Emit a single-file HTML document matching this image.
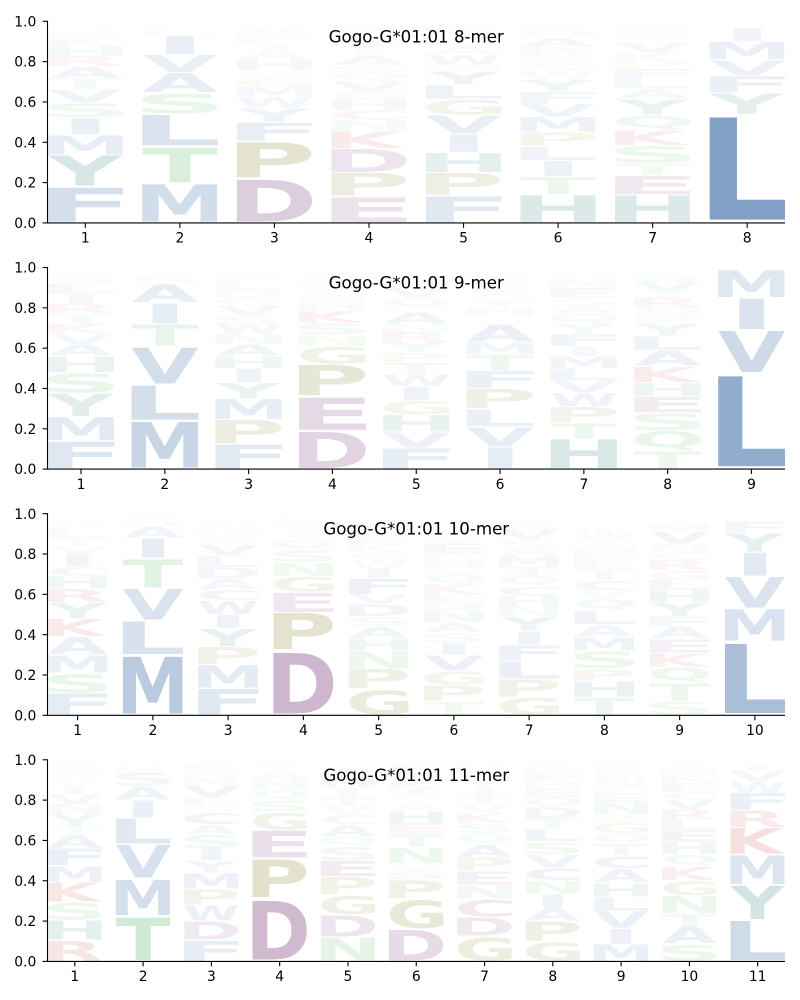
<!DOCTYPE html>
<html lang="en">
<head>
<meta charset="utf-8">
<title>Gogo-G*01:01 sequence logos</title>
<style>
html,body{margin:0;padding:0;background:#fff}
svg{display:block}
text{font-family:"DejaVu Sans","Liberation Sans",sans-serif}
</style>
</head>
<body>
<svg id="chart" xmlns="http://www.w3.org/2000/svg" width="800" height="1000" viewBox="0 0 800 1000"></svg>
<script>
const titles = ["Gogo-G*01:01 8-mer","Gogo-G*01:01 9-mer","Gogo-G*01:01 10-mer","Gogo-G*01:01 11-mer"];
const yTickLabels = ["0.0","0.2","0.4","0.6","0.8","1.0"];

const letters8 = [
"FYMISVTARHKEQGNLPD","MTLSAVIEQNRDH","DPFYWMGSQHAILHVTKE","EPDKNCHGVQSAITRLFY",
"FPHIVGLYMWATSQENK","HTILPMVFYWQSRAHKEN","HETSKQYALFPKVSHRNM","LYFVMIRQS"];
const heights8 = [
[.18,.157,.1,.085,.075,.065,.055,.06,.05,.05,.04,.03,.02,.01,.01,.005,.005,.003],
[.195,.185,.16,.105,.1,.09,.095,.025,.015,.01,.01,.005,.005],
[.22,.185,.095,.07,.055,.05,.045,.02,.02,.05,.04,.03,.03,.03,.03,.01,.01,.01],
[.13,.12,.12,.085,.055,.05,.05,.04,.05,.045,.035,.05,.03,.03,.03,.03,.02,.02],
[.135,.115,.1,.09,.095,.08,.07,.07,.03,.05,.04,.02,.02,.02,.02,.02,.02],
[.14,.09,.08,.07,.07,.075,.065,.06,.06,.04,.04,.04,.04,.05,.03,.02,.02,.015],
[.14,.095,.06,.09,.075,.075,.08,.05,.05,.05,.04,.04,.05,.03,.02,.02,.02,.01],
[.54,.105,.085,.08,.09,.065,.015,.01,.01]];

const letters9 = [
"FMYSHAVKTRILGQENPC","MLVTIASNQK","FPMYIHANWSVQDLEKTG","DEPGNSKHQTKVLIYA",
"FVHGIWTPYRNALQVKSE","IVLPFTMANQHYGSVKEWR","HTPWVLMIFYQASENHKGR","TQSEHKALYPQRIVSFNM","LVIM"];
const heights9 = [
[.14,.12,.115,.105,.08,.06,.05,.05,.05,.05,.05,.05,.04,.02,.01,.005,.005,.003],
[.24,.18,.19,.11,.105,.095,.04,.015,.01,.005],
[.125,.12,.105,.08,.07,.06,.06,.05,.05,.04,.05,.04,.04,.04,.03,.02,.01,.005],
[.19,.17,.16,.09,.055,.06,.06,.04,.04,.03,.03,.03,.02,.02,.005,.005],
[.105,.08,.085,.07,.07,.06,.06,.05,.05,.05,.04,.06,.02,.05,.05,.03,.03,.02],
[.11,.1,.09,.1,.09,.08,.06,.09,.02,.02,.04,.04,.03,.03,.03,.02,.02,.01,.01],
[.15,.08,.08,.07,.06,.06,.06,.05,.06,.05,.05,.04,.04,.05,.04,.02,.02,.01,.01],
[.09,.1,.09,.08,.07,.08,.08,.07,.06,.04,.04,.05,.03,.05,.04,.02,.005,.005],
[.475,.215,.16,.14]];

const letters10 = [
"FSMAKYRHCIVTLGQNPE","MLVTIASNQK","FMPYIWCADLVSHNQGTE","DPEGNSQAYTKVLH",
"GPNHASDVFIWQKERTYL","TPGVISANDFKQLHREYWMC","GPLFIYNHCQTMASVKRD","THPSMALQVCTEFNYWKG",
"STQKEAFYHLGRCNVMIW","LMVIYFE"];
const heights10 = [
[.11,.1,.09,.09,.09,.08,.07,.06,.05,.06,.04,.04,.04,.03,.02,.01,.01,.01],
[.3,.17,.16,.15,.1,.06,.04,.01,.005,.005],
[.135,.115,.09,.09,.07,.07,.055,.055,.055,.055,.055,.04,.03,.03,.02,.015,.015,.01],
[.32,.19,.1,.08,.07,.06,.05,.03,.03,.02,.02,.01,.01,.01],
[.13,.1,.09,.06,.06,.05,.06,.05,.08,.05,.04,.04,.04,.04,.03,.03,.02,.01],
[.07,.08,.07,.08,.06,.05,.05,.06,.04,.04,.05,.05,.03,.04,.03,.05,.03,.02,.02,.01],
[.09,.09,.09,.08,.07,.07,.05,.05,.05,.05,.05,.05,.04,.04,.05,.03,.02,.01],
[.09,.08,.06,.09,.07,.06,.07,.06,.04,.05,.05,.04,.04,.04,.03,.04,.02,.01],
[.07,.09,.08,.07,.07,.06,.05,.07,.06,.05,.05,.05,.04,.04,.06,.04,.02,.01],
[.365,.165,.16,.12,.095,.055,.02]];

const letters11 = [
"RHSKMFATYNVIQPGSLE","TMVLIASNQKG","FDWPMYISACQLVNHRET","DPEGSQNATKHL",
"NDGPESQACVTIHLKY","DGPSQNTEHAVIKRYF","GDCNEPAQSKVTIYLHRF","GPAINCVSLTDQEHFRKY",
"MIVLHACTQGSNEFWKRY","SATNGKQHELRVCFKMYI","LYMKRFWVI"];
const heights11 = [
[.105,.1,.09,.1,.08,.085,.07,.04,.06,.05,.05,.04,.03,.03,.03,.02,.01,.01],
[.225,.185,.17,.13,.09,.07,.07,.02,.02,.01,.01],
[.105,.095,.08,.08,.08,.06,.06,.07,.05,.06,.03,.04,.06,.04,.03,.03,.01,.01],
[.31,.2,.14,.09,.06,.05,.05,.04,.03,.02,.005,.005],
[.12,.11,.1,.09,.08,.07,.05,.06,.05,.04,.05,.04,.05,.03,.02,.01],
[.16,.15,.095,.05,.03,.08,.07,.05,.06,.04,.03,.04,.04,.03,.02,.03],
[.125,.095,.09,.07,.07,.065,.065,.055,.05,.05,.04,.04,.045,.04,.03,.03,.02,.01],
[.1,.1,.065,.07,.065,.065,.065,.065,.06,.055,.055,.05,.045,.035,.04,.03,.02,.01],
[.085,.08,.085,.07,.07,.07,.065,.06,.05,.055,.04,.06,.045,.03,.04,.03,.03,.02],
[.087,.085,.065,.09,.075,.07,.06,.06,.06,.05,.05,.05,.04,.045,.04,.03,.03,.01],
[.205,.175,.15,.135,.085,.085,.055,.055,.035]];

const panelLetters = [letters8, letters9, letters10, letters11];
const panelHeights = [heights8, heights9, heights10, heights11];
const panelTops = [21.3, 267.5, 513.7, 759.8];
const axisHeight = 201.6;
const axisLeft = 47.5;
const axisRight = 785;

const groupColor = {
  L:"#517bb1",M:"#517bb1",F:"#517bb1",V:"#517bb1",I:"#517bb1",A:"#517bb1",W:"#517bb1",
  D:"#8b558b",E:"#8b558b",C:"#8b558b",
  P:"#8f8f40",G:"#8f8f40",
  S:"#62bc6c",T:"#62bc6c",N:"#62bc6c",Q:"#62bc6c",
  H:"#3f8a85",Y:"#3f8a85",
  K:"#c74b4b",R:"#c74b4b"
};

const NS = "http://www.w3.org/2000/svg";
const svg = document.getElementById("chart");
const FONT_SIZE = 100;
const ctx = document.createElement("canvas").getContext("2d");
ctx.font = 'bold ' + FONT_SIZE + 'px "DejaVu Sans"';
const inkCache = {};
function ink(ch){
  if(!inkCache[ch]){
    const m = ctx.measureText(ch);
    inkCache[ch] = {l:m.actualBoundingBoxLeft, r:m.actualBoundingBoxRight, a:m.actualBoundingBoxAscent, d:m.actualBoundingBoxDescent};
  }
  return inkCache[ch];
}
function make(tag, attrs, parent){
  const e = document.createElementNS(NS, tag);
  for(const k in attrs) e.setAttribute(k, attrs[k]);
  parent.appendChild(e);
  return e;
}
function drawLetter(parent, ch, cx, halfW, yTop, yBottom, alpha){
  const m = ink(ch);
  const hw = ch === "I" ? halfW * 0.37 : halfW;
  const sx = (2 * hw) / (m.r + m.l);
  const sy = (yBottom - yTop) / (m.a + m.d);
  const tx = cx - hw + m.l * sx;
  const ty = yBottom - m.d * sy;
  const t = make("text", {
    transform: "translate(" + tx.toFixed(2) + "," + ty.toFixed(2) + ") scale(" + sx.toFixed(4) + "," + sy.toFixed(4) + ")",
    "font-size": FONT_SIZE, "font-weight": "bold", fill: groupColor[ch], "fill-opacity": alpha.toFixed(3)
  }, parent);
  
  
  t.textContent = ch;
}
function drawPanel(p){
  const letters = panelLetters[p];
  const heights = panelHeights[p];
  const n = heights.length;
  const top = panelTops[p];
  const bottom = top + axisHeight;
  const xs = v => axisLeft + (v - 0.6) * (axisRight - axisLeft) / (n - 0.2);
  const ys = v => bottom - v * axisHeight;

  const g = make("g", {}, svg);
  
  

  heights.forEach((col, i) => {
    const c = make("g", {}, g);
    
    
    let base = 0;
    col.forEach((h, j) => {
      const ch = letters[i][j];
      const pad = h * 0.03;
      const alpha = Math.min(1, 1.32 * h * Math.min(1, h / 0.06));
      drawLetter(c, ch, xs(i + 1), xs(i + 1.4) - xs(i + 1), ys(base + h - pad), ys(base + pad), alpha);
      base += h;
    });
  });

  const axes = make("g", {stroke:"#000", "stroke-width":"1.1"}, g);
  
  
  make("line", {x1:axisLeft, x2:axisLeft, y1:top - 0.5, y2:bottom + 0.55}, axes);
  make("line", {x1:axisLeft - 0.55, x2:axisRight, y1:bottom, y2:bottom}, axes);

  yTickLabels.forEach(lbl => {
    const y = ys(parseFloat(lbl));
    make("line", {x1:axisLeft - 4.9, x2:axisLeft, y1:y, y2:y}, axes);
    const t = make("text", {x:36.3, y:y + 5.1, "text-anchor":"end", "font-size":"13.89", fill:"#000"}, g);
    
    
    t.textContent = lbl;
  });
  heights.forEach((col, i) => {
    const x = xs(i + 1);
    make("line", {x1:x, x2:x, y1:bottom, y2:bottom + 4.9}, axes);
    const t = make("text", {x:x, y:bottom + 19.8, "text-anchor":"middle", "font-size":"13.89", fill:"#000"}, g);
    
    
    t.textContent = String(i + 1);
  });

  const title = make("text", {x:(axisLeft + axisRight) / 2, y:top + 21, "text-anchor":"middle", "font-size":"16.67", fill:"#000"}, g);
  
  
  title.textContent = titles[p];
}
for(let p = 0; p < 4; p++) drawPanel(p);
</script>
</body>
</html>
